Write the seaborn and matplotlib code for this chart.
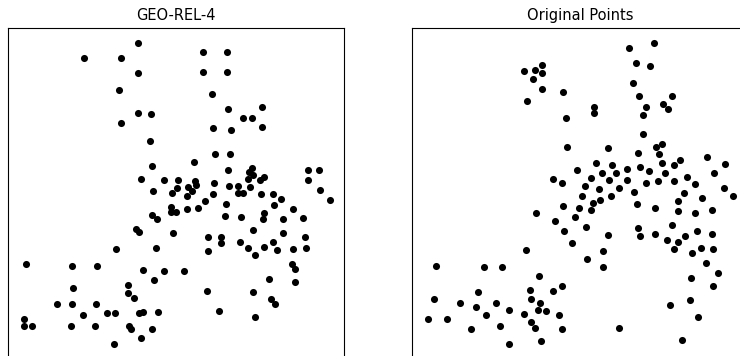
import matplotlib
matplotlib.use("Agg")
import matplotlib.pyplot as plt
import seaborn as sns
import pandas as pd

# point positions (screen units, y grows downwards)
geo_x = [138.3, 84.3, 121, 138.3, 119.3, 138.3, 151, 120.7, 150.3, 151.7,
         203.3, 227.3, 203.3, 227.3, 211.7, 228.3, 262, 243.3, 252.3, 262,
         213, 230.7, 215, 230, 194, 228.3, 252.3, 249.3, 253.3, 248.3,
         259.7, 264.3, 308.3, 319, 308.3, 141, 164, 178.3, 195, 213.7,
         229, 238, 152.7, 172, 177, 187.7, 196, 192.3, 186.7, 212.5,
         237.5, 242.5, 205, 225.7, 170.7, 170.7, 176.2, 187.2, 198, 152.3,
         156.7, 225.3, 240.7, 249.7, 260.5, 273, 280.5, 274.3, 293, 319.5,
         330, 264.3, 263, 283, 302.7, 135.7, 139, 173.3, 116, 156.3,
         26, 72.3, 96.7, 143, 164, 153.7, 128.3, 72.7, 128.3, 134,
         57.3, 71.7, 95.7, 83.3, 107.3, 114.7, 139.3, 143.3, 158.3, 24,
         24, 32, 71.3, 95, 129.3, 131, 151.7, 141, 114.3, 252.7,
         283.3, 207.7, 221.3, 221.3, 305.3, 240.3, 273.3, 207.7, 248, 264.3,
         276.7, 293.3, 305.7, 255.3, 292.3, 294.7, 184.3, 269, 295.3, 207.3,
         252.7, 270.7, 275.3, 218.7, 255]
geo_y = [43.3, 58.3, 58.3, 73.3, 90, 112.7, 113.7, 122.7, 140.7, 165.7,
         51.7, 51.7, 72.3, 72.3, 94, 109, 106.7, 118.3, 118, 126.7,
         128, 129.7, 154, 154.5, 162, 170.5, 168.3, 171.7, 175, 179.3,
         180, 176.7, 170.2, 170.2, 180, 179.3, 180, 180.2, 180.7, 183.5,
         186, 186.5, 190.7, 192.7, 188.5, 186.7, 185.5, 190.7, 195.8, 193.8,
         192.7, 193.3, 200.7, 203.5, 206.5, 211.5, 212, 209.2, 208.2, 214.5,
         218.5, 215.5, 216.8, 187.3, 193.7, 194.2, 199.3, 205.2, 208.7, 190.5,
         200.3, 213, 219, 218.7, 217.8, 229.3, 232, 233.3, 248.7, 248,
         263.7, 266.3, 266.3, 270.3, 270.7, 280, 284.7, 288, 293.3, 298.3,
         304, 304.3, 304.3, 315.3, 313, 313, 313.3, 312.3, 312, 318.7,
         326, 326, 326.3, 326.3, 326.3, 329.3, 329.3, 337.7, 343.7, 230.3,
         232.7, 236.7, 236.7, 243, 237, 241.7, 242, 251, 247.7, 246.7,
         250, 248.7, 248, 254.7, 264, 269.3, 271.3, 278.7, 281.7, 291.3,
         291.7, 299.3, 304.3, 311, 317.3]

orig_x = [541.7, 524, 534.7, 542.3, 533.3, 542.3, 563.3, 527, 565.7, 566.7,
          552.7, 629.3, 654, 635.7, 650.3, 632.7, 638.7, 671.7, 594.3, 594.3,
          646.3, 663.3, 667.7, 643, 642.7, 661.7, 655.7, 659.3, 607.7, 638.3,
          707.3, 725, 680.3, 674, 662.3, 595.7, 612.5, 577.5, 640, 627.5,
          649.5, 601.8, 616, 665.2, 713.7, 686.7, 590.8, 609.5, 627, 645.8,
          658.3, 674.3, 695.3, 724.3, 732.7, 585, 599.5, 619, 634.3, 684,
          702.5, 582.3, 593, 600.2, 610.7, 637.3, 677.7, 579.5, 591.2, 654.8,
          678, 695.3, 711.7, 574.7, 586.3, 637.7, 672.3, 697, 607.7, 639.7,
          655, 684.7, 712, 572.3, 666.7, 677.7, 674.3, 603.3, 691.7, 701.3,
          712.7, 586.7, 603, 706, 717.7, 690.7, 712.7, 670, 690.3, 697.7,
          619, 682.3, 562.3, 563, 535.7, 555, 564.3, 525.7, 436, 484.3,
          502, 538.7, 561.7, 552.7, 530, 478.3, 433.7, 531, 539.7, 459.7,
          496, 476, 509.3, 538.3, 546, 486.3, 523.7, 559.3, 427.7, 446.7,
          530.7, 535, 499.7, 471.3, 562.3, 541.3, 508.7]
orig_y = [65, 71, 70, 72.7, 79.3, 89.3, 92, 100.7, 117.7, 146.7,
          178.8, 47.7, 43.3, 63, 66.3, 83.3, 96, 96, 106.7, 112.7,
          106.7, 104.3, 109.3, 114.7, 134, 144, 147, 153.7, 148, 153,
          157.3, 163.7, 160, 165.3, 163.3, 163.3, 164.7, 170, 167.2, 168.7,
          170.8, 173.3, 173.3, 173.3, 173.3, 176.7, 177.8, 180.2, 180, 182.7,
          181.5, 181, 184.5, 188, 196, 186.5, 188.7, 187.7, 192, 193,
          197.5, 195.8, 202.5, 200.3, 196.2, 203.8, 201, 207.5, 210.3, 208,
          211.3, 213.3, 210, 217.3, 227, 228, 224.7, 230.7, 235.3, 236.3,
          234, 236.3, 234, 243, 240.3, 242.3, 249, 250.5, 252.7, 248.3,
          249.3, 258.7, 267, 262.7, 272.7, 277.7, 286.3, 305, 300.3, 317,
          328, 340, 183.3, 205.5, 212.5, 220.7, 230.7, 249.7, 266.3, 267,
          266.7, 275.7, 286.3, 291, 290.3, 292.3, 299.3, 299.3, 303.3, 302.7,
          302.7, 307.3, 309.7, 310.3, 311, 315, 313.7, 315.3, 319.3, 319,
          322.3, 327.7, 325.7, 329.3, 329, 341, 343.7]

titles = ["GEO-REL-4", "Original Points"]

sns.set_style("white")
plt.rcParams['font.family'] = ['DejaVu Sans']

fig = plt.figure(figsize=(7.4, 3.56), dpi=100)

# axes are square and run off the bottom / right edge of the picture
W, H = 740, 356
side = 335.7
top = 28.3
panels = [(8.3, geo_x, geo_y), (412.3, orig_x, orig_y)]

for (left, xs, ys), title in zip(panels, titles):
    ax = fig.add_axes([left / W, (H - top - side) / H, side / W, side / H])
    df = pd.DataFrame({'x': xs, 'y': ys})
    sns.scatterplot(data=df, x='x', y='y', ax=ax, color='black', s=26,
                    linewidth=0, legend=False)
    ax.set_xlim(left, left + side)
    ax.set_ylim(top + side, top)
    ax.set_xticks([])
    ax.set_yticks([])
    ax.set_xlabel('')
    ax.set_ylabel('')
    ax.set_title(title, fontsize=10.5, pad=6, color='black')
    for sp in ax.spines.values():
        sp.set_color('black')
        sp.set_linewidth(0.8)

fig.savefig('out.png', dpi=100)
